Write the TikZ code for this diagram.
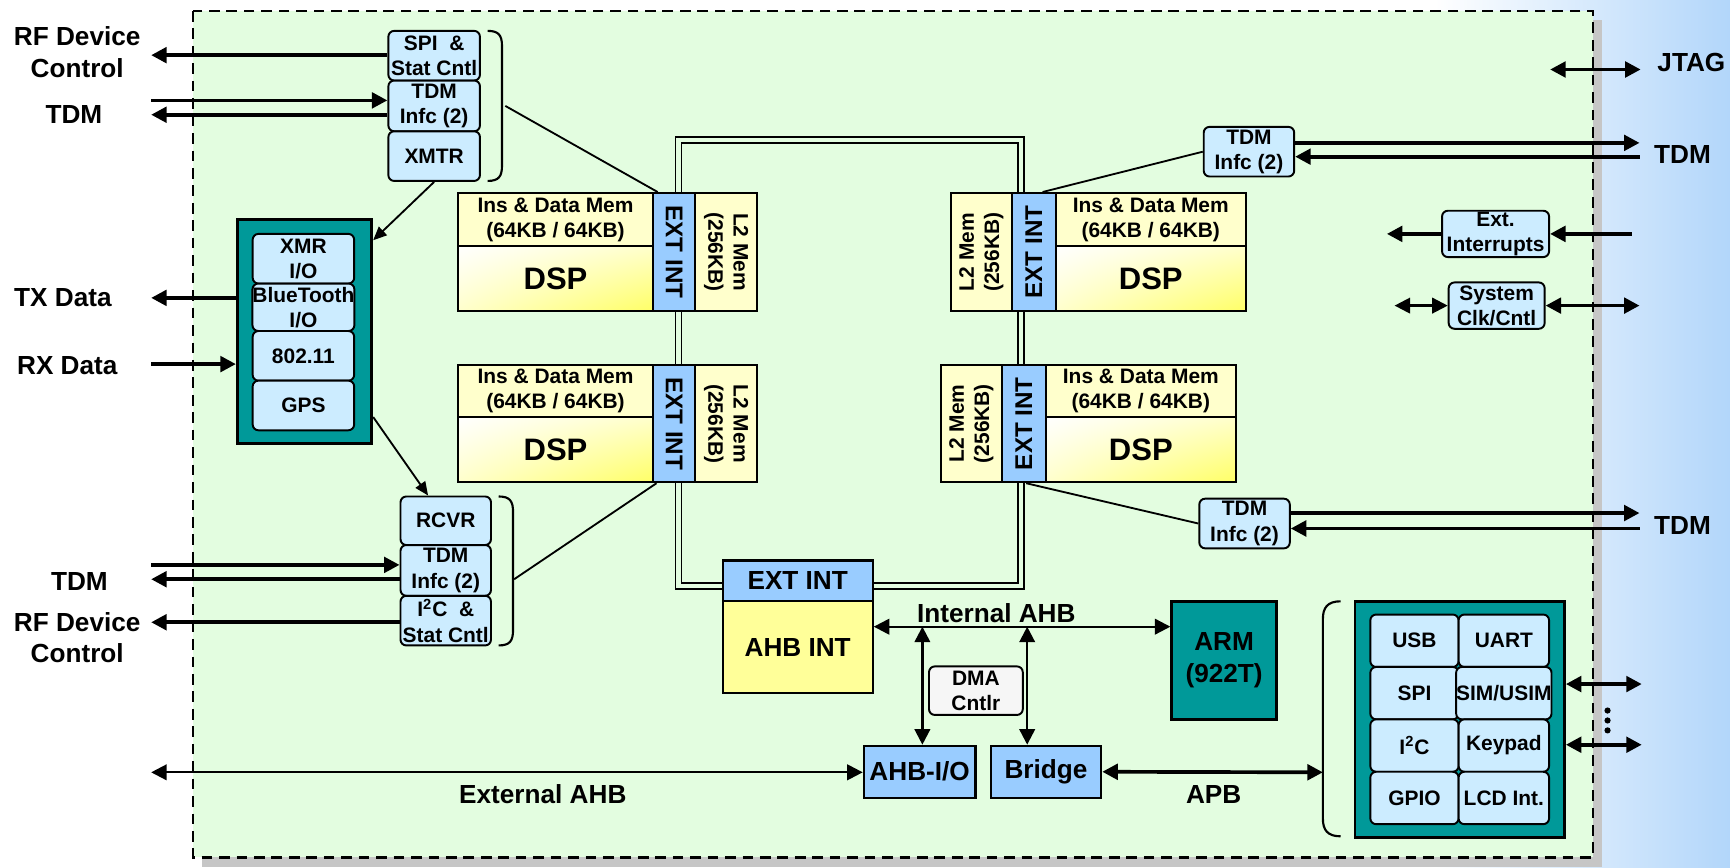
\documentclass[tikz,border=0pt]{standalone}
\usepackage{fontspec}
\setmainfont{Liberation Sans}
\usetikzlibrary{arrows.meta, positioning, shadings}

\definecolor{bggreen}{RGB}{227,253,224}
\definecolor{boxblue}{RGB}{204,236,255}
\definecolor{extblue}{RGB}{153,204,255}
\definecolor{chipteal}{RGB}{0,153,153}
\definecolor{memyellow}{RGB}{255,255,204}
\definecolor{ahbyellow}{RGB}{255,255,153}
\definecolor{dspyellow}{RGB}{255,255,102}
\definecolor{dmagray}{RGB}{246,246,246}
\definecolor{sideblue}{RGB}{178,214,250}

\pgfdeclarelayer{background}
\pgfsetlayers{background,main}

\newcommand{\bigtxt}{\fontsize{13.5}{16.4}\selectfont\bfseries}
\newcommand{\midtxt}{\fontsize{10.8}{13}\selectfont\bfseries}
\newcommand{\dsptxt}{\fontsize{16}{19}\selectfont\bfseries}
\newcommand{\turned}[2]{\rotatebox{#1}{\begin{tabular}{@{}c@{}}#2\end{tabular}}}

\begin{document}
\begin{tikzpicture}[x=0.02cm, y=-0.02cm, >={Triangle[length=8pt,width=8pt]},
    sz/.style 2 args={minimum width=#1*0.02cm, minimum height=#2*0.02cm},
    sub/.style={draw, rounded corners=3pt, fill=boxblue, line width=1pt, align=center, inner sep=0pt, font=\midtxt},
    mem/.style={draw, fill=memyellow, line width=1.1pt, inner sep=0pt, align=center, font=\midtxt},
    core/.style={draw, line width=1.1pt, inner sep=0pt, font=\dsptxt, shade, shading=bilinear interpolation,
        upper left=white, upper right=memyellow, lower left=memyellow, lower right=dspyellow},
    extint/.style={draw, fill=extblue, line width=1.1pt, inner sep=0pt, font=\fontsize{12.5}{14}\selectfont\bfseries},
    group/.style={draw, fill=chipteal, line width=1.4pt, inner sep=0pt, align=center, font=\bigtxt},
    ahb/.style={draw, fill=extblue, line width=1.2pt, inner sep=0pt, font=\bigtxt},
    lbl/.style={align=center, font=\bigtxt, inner sep=1pt},
    fat/.style={line width=1.9pt},
    wire/.style={line width=1.2pt},
    thin/.style={line width=0.95pt},
    bus/.style={line width=0.9pt, double=bggreen, double distance=2.2pt},
    curly/.style={line width=1.1pt}
]

    % -------------------------------------------------------------
    % BACKGROUND: CHIP AREA
    % -------------------------------------------------------------
    \useasboundingbox (0,0) rectangle (1568,786);
    \begin{pgfonlayer}{background}
        \fill[white] (0,0) rectangle (1568,786);
        \shade[left color=white, right color=sideblue] (1300,0) rectangle (1568,786);
        % shadow of the chip
        \fill[gray!45] (1444,18) rectangle (1452,786);
        \fill[gray!45] (183,777) rectangle (1452,786);
        \filldraw[fill=bggreen, line width=1.3pt, dash pattern=on 5.5pt off 3.5pt] (175,10) rectangle (1444,777);
    \end{pgfonlayer}

    % -------------------------------------------------------------
    % LEFT SIDE: RF INTERFACES
    % -------------------------------------------------------------

    % Transmit stack
    \node[sub, sz={83}{45}] (spiA) at (393.5,50.5) {SPI~~\&\\Stat Cntl};
    \node[sub, sz={83}{46}] (tdmA) at (393.5,96) {TDM\\Infc (2)};
    \node[sub, sz={83}{45}] (xmtr) at (393.5,141.5) {XMTR};
    \draw[curly] (442,28) .. controls (452,28) and (455,32) .. (455,42) -- (455,150) .. controls (455,160) and (452,164) .. (442,164);

    % Radio group
    \node[group, sz={122}{203}] (radio) at (276,300.5) {};
    \node[sub, sz={92}{45}] (xmr) at (275,234.5) {XMR\\I/O};
    \node[sub, sz={92}{43}] (blue) at (275,278.5) {BlueTooth\\I/O};
    \node[sub, sz={92}{45}] (wlan) at (275,322.5) {802.11};
    \node[sub, sz={92}{45}] (gps) at (275,367.5) {GPS};

    % Receive stack
    \node[sub, sz={82}{44}] (rcvr) at (404,472) {RCVR};
    \node[sub, sz={82}{46}] (tdmB) at (404,517) {TDM\\Infc (2)};
    \node[sub, sz={82}{45}] (i2cA) at (404,562.5) {I\textsuperscript{2}C~~\&\\Stat Cntl};
    \draw[curly] (452,450) .. controls (462,450) and (465,454) .. (465,464) -- (465,571) .. controls (465,581) and (462,585) .. (452,585);

    % Outside labels
    \node[lbl] (rfA) at (70,47) {RF Device\\Control};
    \node[lbl] (tdmLA) at (67,104) {TDM};
    \node[lbl] (txd) at (57,270) {TX Data};
    \node[lbl] (rxd) at (61,331) {RX Data};
    \node[lbl] (tdmLB) at (72,527) {TDM};
    \node[lbl] (rfB) at (70,578) {RF Device\\Control};

    \coordinate (rfAend) at (137,50);
    \coordinate (tdmAin) at (137,91);
    \coordinate (tdmAout) at (137,104);
    \coordinate (txEnd) at (137,270);
    \coordinate (rxEnd) at (137,330);
    \coordinate (tdmBin) at (137,512);
    \coordinate (tdmBout) at (137,525);
    \coordinate (rfBend) at (137,564);
    \coordinate (eahbEnd) at (137,700);

    \draw[fat,<-] (rfAend) -- (spiA.west |- rfAend);
    \draw[fat,->] (tdmAin) -- (tdmA.west |- tdmAin);
    \draw[fat,<-] (tdmAout) -- (tdmA.west |- tdmAout);
    \draw[fat,<-] (txEnd) -- (radio.west |- txEnd);
    \draw[fat,->] (rxEnd) -- (radio.west |- rxEnd);
    \draw[fat,->] (tdmBin) -- (tdmB.west |- tdmBin);
    \draw[fat,<-] (tdmBout) -- (tdmB.west |- tdmBout);
    \draw[fat,<-] (rfBend) -- (i2cA.west |- rfBend);

    \coordinate (radioIn) at ([yshift=-0.4cm]radio.north east);
    \coordinate (radioOut) at ([yshift=-1.55cm]radio.east);
    \draw[thin,-{Triangle[length=7pt,width=6pt]}] (xmtr.south) -- (radioIn);
    \draw[thin,-{Triangle[length=7pt,width=6pt]}] (radioOut) -- ([xshift=-0.32cm]rcvr.north);

    % -------------------------------------------------------------
    % MIDDLE: FOUR DSP CORES
    % -------------------------------------------------------------

    % Top left
    \node[mem, sz={177}{48}] (memTL) at (503.5,199) {Ins \& Data Mem\\(64KB / 64KB)};
    \node[core, sz={177}{59}] (dspTL) at (503.5,252.5) {DSP};
    \node[extint, sz={38}{107}] (extTL) at (611,228.5) {\rotatebox{-90}{EXT INT}};
    \node[mem, sz={56}{107}] (l2TL) at (658,228.5) {\turned{-90}{L2 Mem\\(256KB)}};

    % Bottom left
    \node[mem, sz={177}{47}] (memBL) at (503.5,354.5) {Ins \& Data Mem\\(64KB / 64KB)};
    \node[core, sz={177}{59}] (dspBL) at (503.5,407.5) {DSP};
    \node[extint, sz={38}{106}] (extBL) at (611,384) {\rotatebox{-90}{EXT INT}};
    \node[mem, sz={56}{106}] (l2BL) at (658,384) {\turned{-90}{L2 Mem\\(256KB)}};

    % Top right
    \node[mem, sz={55}{107}] (l2TR) at (889.5,228.5) {\turned{90}{L2 Mem\\(256KB)}};
    \node[extint, sz={40}{107}] (extTR) at (937,228.5) {\rotatebox{90}{EXT INT}};
    \node[mem, sz={172}{48}] (memTR) at (1043,199) {Ins \& Data Mem\\(64KB / 64KB)};
    \node[core, sz={172}{59}] (dspTR) at (1043,252.5) {DSP};

    % Bottom right
    \node[mem, sz={55}{106}] (l2BR) at (880.5,384) {\turned{90}{L2 Mem\\(256KB)}};
    \node[extint, sz={40}{106}] (extBR) at (928,384) {\rotatebox{90}{EXT INT}};
    \node[mem, sz={172}{47}] (memBR) at (1034,354.5) {Ins \& Data Mem\\(64KB / 64KB)};
    \node[core, sz={172}{59}] (dspBR) at (1034,407.5) {DSP};

    % Links from the interface stacks
    \coordinate (braceAmid) at (458,96);
    \coordinate (braceBmid) at (466,525);
    \draw[thin] (braceAmid) -- ([xshift=0.1cm]extTL.north west);
    \draw[thin] (braceBmid) -- ([xshift=0.08cm]extBL.south west);

    % -------------------------------------------------------------
    % AHB SUBSYSTEM
    % -------------------------------------------------------------
    \node[extint, font=\bigtxt, sz={136}{37}] (extAhb) at (723,526.5) {EXT INT};
    \node[draw, fill=ahbyellow, line width=1.1pt, inner sep=0pt, font=\bigtxt, sz={136}{83}] (ahbInt) at (723,586.5) {AHB INT};
    \node[group, sz={95}{107}] (arm) at (1109.5,598.5) {ARM\\(922T)};
    \node[sub, fill=dmagray, sz={85}{44}] (dma) at (884.5,626) {DMA\\Cntlr};
    \node[ahb, sz={101}{47}] (ahbIO) at (833.5,699.5) {AHB-I/O};
    \node[ahb, sz={100}{47}] (bridge) at (948,699.5) {Bridge};

    \node[lbl] (iahbLbl) at (903,556) {Internal AHB};
    \node[lbl] (eahbLbl) at (492,720) {External AHB};
    \node[lbl] (apbLbl) at (1100,720) {APB};

    \coordinate (iahb) at (900,568);
    \coordinate (ioTap) at (836,568);
    \coordinate (brTap) at (931,568);
    \coordinate (apbEnd) at (1199,700);
    \draw[wire,<->] (ahbInt.east |- iahb) -- (arm.west |- iahb);
    \draw[wire,<->] (ioTap) -- (ioTap |- ahbIO.north);
    \draw[wire,<->] (brTap) -- (brTap |- bridge.north);
    \draw[wire,<->] (eahbEnd) -- (ahbIO.west |- eahbEnd);
    \draw[fat,<->] (bridge.east) -- (apbEnd);

    % -------------------------------------------------------------
    % RIGHT SIDE: PERIPHERALS AND PINS
    % -------------------------------------------------------------
    \node[group, sz={190}{214}] (peri) at (1323,652) {};
    \node[sub, sz={80}{47.5}] (usb) at (1282,580.75) {USB};
    \node[sub, sz={82}{47.5}] (uart) at (1363,580.75) {UART};
    \node[sub, sz={80}{47.5}] (spiB) at (1282,628.25) {SPI};
    \node[sub, sz={82}{47.5}] (sim) at (1363,628.25) {SIM/USIM};
    \node[sub, sz={80}{47.5}] (i2cB) at (1282,675.75) {I\textsuperscript{2}C};
    \node[sub, sz={82}{47.5}] (keypad) at (1363,675.75) {Keypad};
    \node[sub, sz={80}{47.5}] (gpio) at (1282,723.25) {GPIO};
    \node[sub, sz={82}{47.5}] (lcd) at (1363,723.25) {LCD Int.};
    \draw[curly] (1215,545) .. controls (1203,545) and (1199,551) .. (1199,561) -- (1199,742) .. controls (1199,752) and (1203,758) .. (1215,758);

    \node[sub, sz={82}{45}] (tdmC) at (1132,137.5) {TDM\\Infc (2)};
    \node[sub, sz={82}{45}] (tdmD) at (1128,474.5) {TDM\\Infc (2)};
    \node[sub, sz={97}{42}] (extIrq) at (1355.5,212) {Ext.\\Interrupts};
    \node[sub, sz={87}{42}] (sysClk) at (1356.5,277) {System\\Clk/Cntl};

    \node[lbl] (jtag) at (1533,57) {JTAG};
    \node[lbl] (tdmLC) at (1525,140) {TDM};
    \node[lbl] (tdmLD) at (1525,476) {TDM};

    \coordinate (jtagL) at (1405,63);
    \coordinate (jtagR) at (1487,63);
    \coordinate (tdmCout) at (1486,129.5);
    \coordinate (tdmCin) at (1486,142);
    \coordinate (tdmDout) at (1486,465);
    \coordinate (tdmDin) at (1486,479);
    \coordinate (irqIn) at (1479,212);
    \coordinate (irqOut) at (1257,212);
    \coordinate (clkL) at (1264,277);
    \coordinate (clkR) at (1486,277);
    \coordinate (periA) at (1488,620);
    \coordinate (periB) at (1488,675);

    \draw[fat,<->] (jtagL) -- (jtagR);
    \draw[fat,->] (tdmC.east |- tdmCout) -- (tdmCout);
    \draw[fat,->] (tdmCin) -- (tdmC.east |- tdmCin);
    \draw[fat,->] (tdmD.east |- tdmDout) -- (tdmDout);
    \draw[fat,->] (tdmDin) -- (tdmD.east |- tdmDin);
    \draw[fat,->] (irqIn) -- (extIrq.east);
    \draw[fat,->] (extIrq.west) -- (irqOut);
    \draw[wire,<->] (clkL) -- (sysClk.west);
    \draw[fat,<->] (sysClk.east) -- (clkR);
    \draw[fat,<->] (peri.east |- periA) -- (periA);
    \draw[fat,<->] (peri.east |- periB) -- (periB);
    \fill (1457,644) circle (1.6pt) (1457,653) circle (1.6pt) (1457,662) circle (1.6pt);

    \draw[thin] (tdmC.west) -- ([xshift=-0.26cm]extTR.north east);
    \draw[thin] (tdmD.west) -- ([xshift=0.04cm]extBR.south);

    % -------------------------------------------------------------
    % DSP BUS (behind the cores)
    % -------------------------------------------------------------
    \coordinate (busTL) at (615,127);
    \coordinate (busBR) at (925.5,531);
    \begin{pgfonlayer}{background}
        \draw[bus] (busTL) rectangle (busBR);
    \end{pgfonlayer}

\end{tikzpicture}
\end{document}
